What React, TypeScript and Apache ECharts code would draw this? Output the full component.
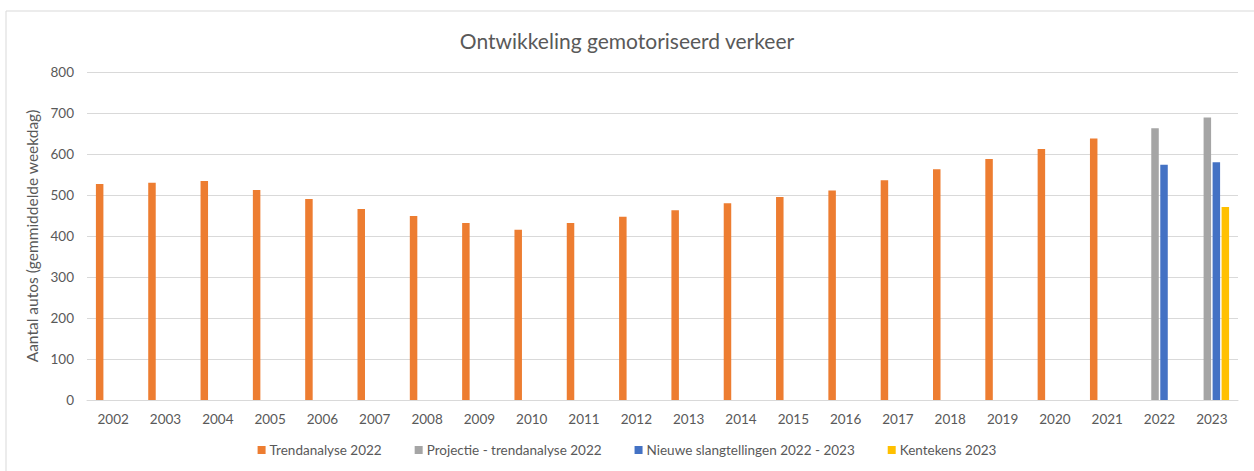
import React, { useEffect, useRef } from "react";
import * as echarts from "echarts";

const years = ["2002","2003","2004","2005","2006","2007","2008","2009","2010","2011","2012","2013","2014","2015","2016","2017","2018","2019","2020","2021","2022","2023"];
const trendanalyse = [527,530,534,512,490,466,449,432,415,432,447,463,480,495,511,536,563,588,612,638,null,null];
const projectie = [null,null,null,null,null,null,null,null,null,null,null,null,null,null,null,null,null,null,null,null,663,689];
const slangtellingen = [null,null,null,null,null,null,null,null,null,null,null,null,null,null,null,null,null,null,null,null,574,580];
const kentekens = [null,null,null,null,null,null,null,null,null,null,null,null,null,null,null,null,null,null,null,null,null,471];
const yTicks = [0, 800, 100];

const FONT = "Lato, 'Open Sans', sans-serif";
const TXT = "#595959";

export default function App() {
  const ref = useRef<HTMLDivElement>(null);
  useEffect(() => {
    if (!ref.current) return;
    const chart = echarts.init(ref.current, undefined, { renderer: "svg" });
    const mk = (name: string, data: (number | null)[], color: string) => ({
      name,
      type: "bar",
      data,
      barWidth: 7.5,
      barGap: "20%",
      itemStyle: { color },
      emphasis: { disabled: true },
    });
    chart.setOption({
      animation: false,
      textStyle: { fontFamily: FONT },
      graphic: [
        {
          type: "rect",
          shape: { x: 6, y: 11, width: 1300, height: 500 },
          style: { fill: "none", stroke: "#D9D9D9", lineWidth: 1 },
          silent: true,
        },
      ],
      title: {
        text: "Ontwikkeling gemotoriseerd verkeer",
        left: "center",
        top: 25,
        textStyle: { fontFamily: FONT, fontSize: 21, fontWeight: "normal", color: TXT },
      },
      legend: {
        bottom: 9,
        left: "center",
        itemWidth: 8,
        itemHeight: 8,
        itemGap: 33,
        icon: "rect",
        textStyle: { fontFamily: FONT, fontSize: 13.5, color: TXT, padding: [0, 0, 0, -1] },
        data: ["Trendanalyse 2022", "Projectie - trendanalyse 2022", "Nieuwe slangtellingen 2022 - 2023", "Kentekens 2023"],
      },
      grid: { left: 87, right: 16, top: 72, bottom: 71, containLabel: false },
      xAxis: {
        type: "category",
        data: years,
        axisLine: { show: true, lineStyle: { color: "#D9D9D9" } },
        axisTick: { show: false },
        axisLabel: { color: TXT, fontSize: 13.5, fontFamily: FONT, margin: 12 },
      },
      yAxis: {
        type: "value",
        min: yTicks[0],
        max: yTicks[1],
        interval: yTicks[2],
        name: "Aantal autos (gemmiddelde weekdag)",
        nameLocation: "middle",
        nameGap: 38,
        nameTextStyle: { color: TXT, fontSize: 15.5, fontFamily: FONT },
        axisLine: { show: false },
        axisTick: { show: false },
        axisLabel: { color: TXT, fontSize: 13.5, fontFamily: FONT, margin: 13 },
        splitLine: { lineStyle: { color: "#D9D9D9", width: 1 } },
      },
      series: [
        mk("Trendanalyse 2022", trendanalyse, "#ED7D31"),
        mk("Projectie - trendanalyse 2022", projectie, "#A5A5A5"),
        mk("Nieuwe slangtellingen 2022 - 2023", slangtellingen, "#4472C4"),
        mk("Kentekens 2023", kentekens, "#FFC000"),
      ],
    });
    return () => chart.dispose();
  }, []);
  return (
    <div
      ref={ref}
      style={{ position: "absolute", left: 0, top: 0, width: 1254, height: 471, background: "#fff" }}
    />
  );
}
